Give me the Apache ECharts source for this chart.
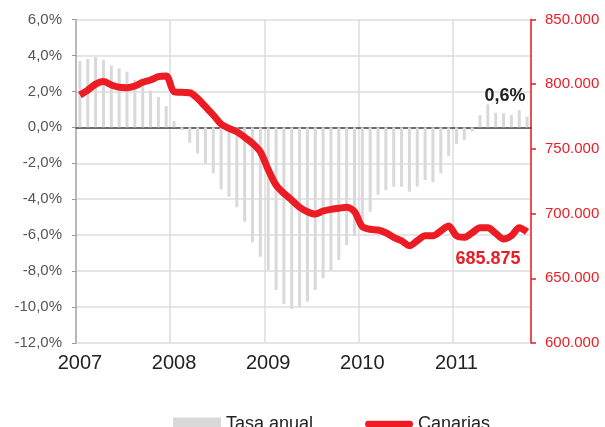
<!DOCTYPE html>
<html>
<head>
<meta charset="utf-8">
<script src="https://cdn.jsdelivr.net/npm/echarts@6/dist/echarts.min.js"></script>
<style>
  html, body { margin: 0; padding: 0; background: #fff; }
  #chart { width: 605px; height: 427px; }
</style>
</head>
<body>
<div id="chart"></div>
<script>
// años mostrados en el eje x (ene 2007 - oct 2011)
const years = ["2007", "2008", "2009", "2010", "2011"];
const lastMonth = 10; // octubre 2011

// tasa anual (%)
const tasaAnual = [
  3.69, 3.8, 3.9, 3.75, 3.45, 3.28, 3.1, 2.65, 2.5, 2.05, 1.7, 1.18,
  0.35, -0.15, -0.86, -1.45, -2.0, -2.55, -3.45, -3.86, -4.45, -5.25, -6.4, -7.2,
  -7.94, -9.05, -9.83, -10.1, -9.98, -9.7, -9.05, -8.4, -7.94, -7.38, -6.55, -6.05,
  -5.1, -4.7, -3.75, -3.5, -3.3, -3.3, -3.58, -3.3, -2.93, -3.06, -2.56, -1.6,
  -0.93, -0.7, -0.24, 0.68, 1.28, 0.81, 0.78, 0.68, 0.96, 0.6
];

// afiliados Canarias
const canarias = [
  791600, 795500, 800000, 802000, 799400, 797600, 797300, 798600, 801500, 803200, 805800, 806300,
  794200, 793700, 793400, 789000, 782600, 776200, 769200, 765900, 763300, 759000, 754300, 747800,
  734000, 722100, 715700, 710500, 704900, 701500, 699700, 702000, 703300, 704100, 704900, 701500,
  689900, 687900, 687300, 685200, 681700, 679000, 675200, 679000, 682900, 682900, 686600, 690400,
  682900, 681700, 685200, 689100, 689100, 684800, 680400, 682900, 689100, 685875
];

const months = [];
years.forEach((y, yi) => {
  const n = yi === years.length - 1 ? lastMonth : 12;
  for (let m = 1; m <= n; m++) months.push(y + "-" + m);
});

const red = "#ec1c24";
const font = "Liberation Sans, Arial, sans-serif";

function pct(v) {
  return v.toFixed(1).replace(".", ",") + "%";
}
function miles(v) {
  return String(Math.round(v)).replace(/\B(?=(\d{3})+(?!\d))/g, ".");
}

const chart = echarts.init(document.getElementById("chart"));
chart.setOption({
  backgroundColor: "#fff",
  animation: false,
  textStyle: { fontFamily: font },
  grid: { left: 76, right: 74, top: 19.5, bottom: 84 },
  legend: {
    left: 168,
    top: 410,
    itemWidth: 48,
    itemHeight: 13,
    itemGap: 52,
    symbolKeepAspect: true,
    textStyle: { fontSize: 18, color: "#222", fontFamily: font },
    data: [
      { name: "Tasa anual", icon: "rect" },
      { name: "Canarias", icon: "path://M3.5,0 L46.5,0 A3.5,3.5 0 0 1 46.5,7 L3.5,7 A3.5,3.5 0 0 1 3.5,0 Z" }
    ]
  },
  xAxis: [
    {
      type: "category",
      data: months,
      boundaryGap: true,
      axisLine: { onZero: true, lineStyle: { color: "#444", width: 1.5 } },
      axisTick: { interval: 11, length: 5, lineStyle: { color: "#444", width: 1.5 } },
      axisLabel: { show: false },
      splitLine: { show: true, interval: 11, lineStyle: { color: "#dcdcdc", width: 1.5 } }
    },
    {
      type: "category",
      data: months,
      boundaryGap: true,
      position: "bottom",
      axisLine: { show: false, onZero: false },
      axisTick: { show: false },
      axisLabel: {
        interval: 11,
        margin: 10,
        fontSize: 20,
        color: "#222",
        formatter: (v) => v.split("-")[0]
      },
      splitLine: { show: false }
    }
  ],
  yAxis: [
    {
      type: "value",
      min: -12,
      max: 6,
      interval: 2,
      axisLine: { show: true, lineStyle: { color: "#aaa", width: 1.5 } },
      axisTick: { show: true, length: 4, lineStyle: { color: "#999" } },
      axisLabel: { margin: 14, fontSize: 15, color: "#555", formatter: pct },
      splitLine: { lineStyle: { color: "#dcdcdc", width: 1.5 } }
    },
    {
      type: "value",
      min: 600000,
      max: 850000,
      interval: 50000,
      position: "right",
      axisLine: { show: true, lineStyle: { color: red, width: 1.5 } },
      axisTick: { show: true, length: 5, lineStyle: { color: red, width: 1.5 } },
      axisLabel: { margin: 14, fontSize: 15, color: red, formatter: miles },
      splitLine: { show: false }
    }
  ],
  series: [
    {
      name: "Tasa anual",
      type: "bar",
      xAxisIndex: 0,
      yAxisIndex: 0,
      barWidth: 3,
      itemStyle: { color: "#d9d9d9" },
      data: tasaAnual.map((v, i) =>
        i === tasaAnual.length - 1
          ? {
              value: v,
              label: {
                show: true,
                position: "top",
                offset: [-22, -7],
                fontSize: 18,
                fontWeight: "bold",
                color: "#222",
                formatter: (p) => pct(p.value)
              }
            }
          : v
      )
    },
    {
      name: "Canarias",
      type: "line",
      xAxisIndex: 0,
      yAxisIndex: 1,
      smooth: 0.3,
      showSymbol: true,
      symbol: "circle",
      symbolSize: 0,
      color: red,
      lineStyle: { color: red, width: 7 },
      z: 3,
      data: canarias.map((v, i) =>
        i === canarias.length - 1
          ? {
              value: v,
              label: {
                show: true,
                position: "bottom",
                distance: 18,
                offset: [-39, 0],
                fontSize: 18,
                fontWeight: "bold",
                color: red,
                formatter: (p) => miles(p.value)
              }
            }
          : v
      )
    }
  ]
});
</script>
</body>
</html>
